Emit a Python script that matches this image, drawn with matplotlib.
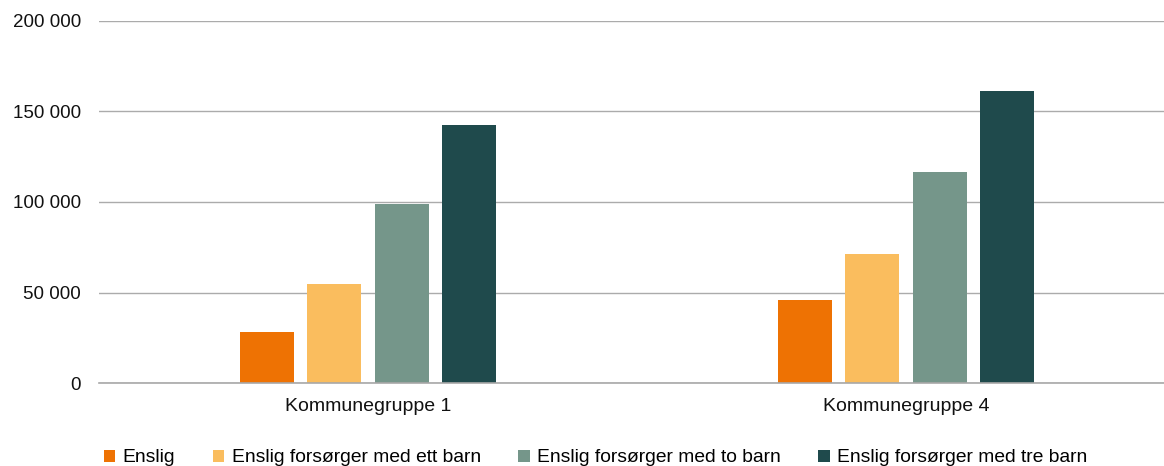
import matplotlib
matplotlib.use("Agg")
import matplotlib.pyplot as plt
import numpy as np
from matplotlib.ticker import FuncFormatter

plt.rcParams['font.family'] = ['Liberation Sans', 'DejaVu Sans']

# data
groups = ["Kommunegruppe 1", "Kommunegruppe 4"]
series = ["Enslig", "Enslig forsørger med ett barn",
          "Enslig forsørger med to barn", "Enslig forsørger med tre barn"]
enslig = [28200, 45900]
ett_barn = [54700, 71300]
to_barn = [98900, 116600]
tre_barn = [142500, 161300]
colors = ["#EE7203", "#FABD5E", "#75968A", "#1F4A4C"]

fig = plt.figure(figsize=(11.64, 4.66), dpi=100)
ax = fig.add_axes([99 / 1164, 1 - 383 / 466, 1 - 99 / 1164, 362 / 466])

x = np.arange(len(groups))
step = 0.1251
width = 0.1004
for i, (vals, name) in enumerate(zip([enslig, ett_barn, to_barn, tre_barn], series)):
    ax.bar(x + (i - 1.5) * step, vals, width, color=colors[i], label=name, zorder=3)

ax.set_ylim(0, 200000)
ax.set_xlim(-0.5, 1.4796)
ax.set_yticks([0, 50000, 100000, 150000, 200000])
ax.yaxis.set_major_formatter(FuncFormatter(lambda v, p: f"{int(v):,}".replace(",", " ")))
ax.set_xticks(x)
ax.set_xticklabels(groups)
ax.grid(axis='y', color='#ababab', linewidth=1.0, zorder=0)
ax.axhline(0, color='#a8a8a8', linewidth=1.2, clip_on=False, zorder=4)
for s in ax.spines.values():
    s.set_visible(False)
ax.tick_params(axis='y', length=0, pad=13, labelsize=13.5, labelcolor='#111111')
ax.tick_params(axis='x', length=0, pad=11, labelsize=14, labelcolor='#111111')

fig.legend(loc='center left', bbox_to_anchor=(104 / 1164, 1 - 458 / 466), ncol=4,
           frameon=False, fontsize=13.85, handlelength=0.58, handleheight=0.58,
           handletextpad=0.4, columnspacing=1.95, borderpad=0, borderaxespad=0)

fig.savefig("out.png", dpi=100)
